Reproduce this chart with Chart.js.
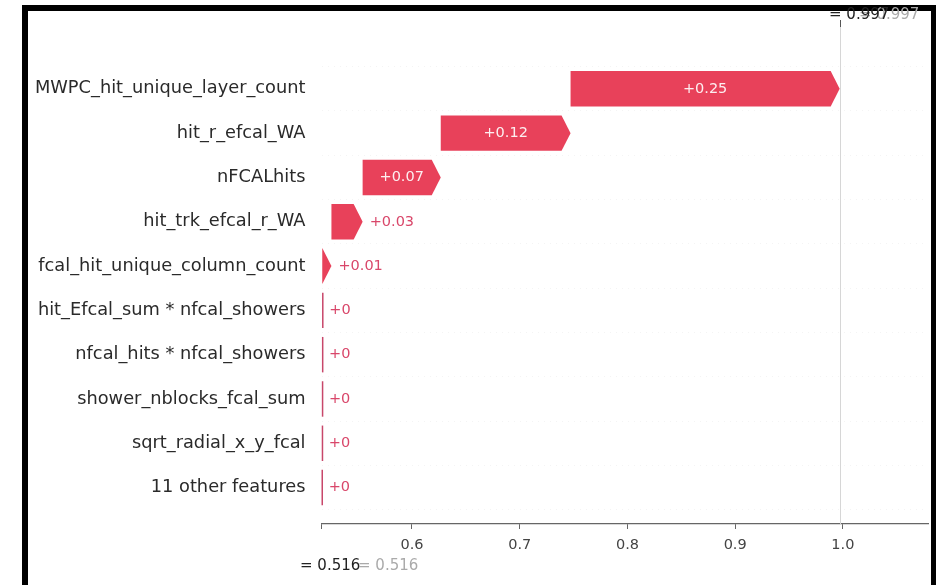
<!DOCTYPE html>
<html>
<head>
<meta charset="utf-8">
<script src="https://cdn.jsdelivr.net/npm/chart.js@4.4.1/dist/chart.umd.min.js"></script>
<style>
  html, body { margin: 0; padding: 0; background: #fff; width: 936px; height: 585px; overflow: hidden; }
  #frame {
    position: absolute; left: 22px; top: 5px; width: 903px; height: 640px;
    border-left: 6px solid #000; border-top: 6px solid #000; border-right: 5px solid #000;
  }
  #wrap { position: absolute; left: 0; top: 0; width: 936px; height: 585px; }
</style>
</head>
<body>
<div id="frame"></div>
<div id="wrap"><canvas id="c" width="936" height="585"></canvas></div>
<script>
// Feature contributions, top row first
const features = [
  'MWPC_hit_unique_layer_count',
  'hit_r_efcal_WA',
  'nFCALhits',
  'hit_trk_efcal_r_WA',
  'fcal_hit_unique_column_count',
  'hit_Efcal_sum * nfcal_showers',
  'nfcal_hits * nfcal_showers',
  'shower_nblocks_fcal_sum',
  'sqrt_radial_x_y_fcal',
  '11 other features'
];
const shapValues = [0.2498, 0.1205, 0.0725, 0.0290, 0.0085, 0.0002, 0.0001, 0.0001, 0.0001, 0.0002];
const baseValue = 0.516;
const xTicks = [0.6, 0.7, 0.8, 0.9, 1.0];
const xMax = 1.079;

const RED = '#e8415a';
const RED_TEXT = '#d9476a';
const FONT = "'DejaVu Sans', sans-serif";

// Waterfall: bars stack upward from the base value
const spans = new Array(features.length);
let running = baseValue;
for (let i = features.length - 1; i >= 0; i--) {
  spans[i] = [running, running + shapValues[i]];
  running += shapValues[i];
}
const fx = running;

function fmt(v) {
  return v.toFixed(2).replace(/\.?0+$/, '');
}

const HEAD = 9;

const arrowPlugin = {
  id: 'waterfallArrows',
  beforeDatasetsDraw(chart) {
    const { ctx, chartArea, scales: { x } } = chart;
    const px = Math.round(x.getPixelForValue(fx)) + 0.5;
    ctx.save();
    ctx.strokeStyle = '#d6d6d6';
    ctx.lineWidth = 1;
    ctx.beginPath();
    ctx.moveTo(px, 27);
    ctx.lineTo(px, chartArea.bottom);
    ctx.stroke();
    ctx.strokeStyle = '#555';
    ctx.beginPath();
    ctx.moveTo(px, 20);
    ctx.lineTo(px, 27);
    ctx.stroke();
    ctx.restore();
  },
  afterDatasetsDraw(chart) {
    const { ctx } = chart;
    const meta = chart.getDatasetMeta(0);
    ctx.save();
    ctx.font = '14.5px ' + FONT;
    ctx.textBaseline = 'middle';
    meta.data.forEach((bar, i) => {
      const p = bar.getProps(['x', 'base', 'y', 'height'], true);
      const left = Math.min(p.x, p.base);
      const tip = Math.max(p.x, p.base);
      const w = tip - left;
      const h = p.height;
      const top = p.y - h / 2, bot = p.y + h / 2;
      if (w < 1.5) {
        ctx.strokeStyle = '#c8476a';
        ctx.lineWidth = 1.5;
        ctx.beginPath();
        ctx.moveTo(left + 0.75, top);
        ctx.lineTo(left + 0.75, bot);
        ctx.stroke();
      } else {
        const hl = Math.min(HEAD, w);
        const bodyEnd = tip - hl;
        ctx.fillStyle = RED;
        ctx.beginPath();
        ctx.moveTo(left, top);
        ctx.lineTo(bodyEnd, top);
        ctx.lineTo(tip, p.y);
        ctx.lineTo(bodyEnd, bot);
        ctx.lineTo(left, bot);
        ctx.closePath();
        ctx.fill();
      }
      const label = (shapValues[i] >= 0 ? '+' : '') + fmt(shapValues[i]);
      const tw = ctx.measureText(label).width;
      if (tw + 14 < w - HEAD) {
        ctx.fillStyle = '#fdeef0';
        ctx.textAlign = 'center';
        ctx.fillText(label, (left + tip) / 2, p.y);
      } else {
        ctx.fillStyle = RED_TEXT;
        ctx.textAlign = 'left';
        ctx.fillText(label, tip + 7, p.y);
      }
    });

    // Output value on top, base value below the axis
    ctx.font = '15px ' + FONT;
    ctx.textAlign = 'left';
    const fxText = '= ' + fx.toFixed(3);
    ctx.fillStyle = '#aaaaaa';
    ctx.fillText(fxText, 859, 15);
    ctx.fillStyle = '#222222';
    ctx.fillText(fxText, 829, 15);
    const baseText = '= ' + baseValue.toFixed(3);
    ctx.fillStyle = '#aaaaaa';
    ctx.fillText(baseText, 358, 566);
    ctx.fillStyle = '#222222';
    ctx.fillText(baseText, 300, 566);
    ctx.restore();
  }
};

new Chart(document.getElementById('c'), {
  type: 'bar',
  data: {
    datasets: [{
      data: spans.map((s, i) => ({ x: s, y: i })),
      backgroundColor: 'rgba(0,0,0,0)',
      borderWidth: 0,
      barPercentage: 0.8,
      categoryPercentage: 1
    }]
  },
  options: {
    indexAxis: 'y',
    responsive: false,
    animation: false,
    layout: { padding: { top: 20, right: 8, left: 0, bottom: 0 } },
    plugins: { legend: { display: false }, tooltip: { enabled: false } },
    scales: {
      x: {
        type: 'linear',
        position: 'bottom',
        min: baseValue,
        max: xMax,
        afterFit: s => { s.height = 61; },
        afterBuildTicks: s => { s.ticks = [baseValue, ...xTicks].map(v => ({ value: v })); },
        ticks: {
          callback: v => (v === baseValue ? '' : v.toFixed(1)),
          font: { family: FONT, size: 14.5 },
          color: '#444',
          padding: 8,
          maxRotation: 0,
          autoSkip: false
        },
        grid: { drawOnChartArea: false, drawTicks: true, tickLength: 5, color: '#666', lineWidth: 1 },
        border: { display: true, color: '#666', width: 1.2 }
      },
      y: {
        type: 'linear',
        reverse: true,
        offset: false,
        min: -1.403,
        max: 9.822,
        afterFit: s => { s.width = 321.5; },
        afterBuildTicks: s => { s.ticks = features.map((_, i) => ({ value: i })); },
        ticks: {
          callback: v => features[v] ?? '',
          font: { family: FONT, size: 17.8 },
          color: '#2a2a2a',
          padding: 16,
          autoSkip: false
        },
        grid: { color: '#ececec', lineWidth: 0.6, drawTicks: false },
        border: { display: false, dash: [1, 5] }
      }
    }
  },
  plugins: [arrowPlugin]
});
</script>
</body>
</html>
